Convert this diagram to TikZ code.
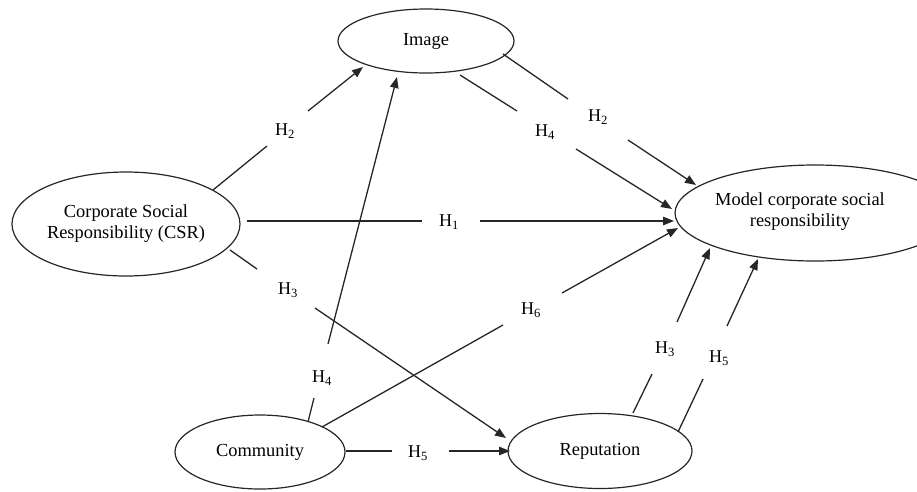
\documentclass[tikz,border=0pt]{standalone}
\usepackage{fontspec}
\setmainfont{Liberation Serif}
\usetikzlibrary{arrows.meta,shapes.geometric}
\begin{document}
\begin{tikzpicture}[x=1pt,y=-1pt,
  every node/.style={font=\fontsize{18.4}{21}\selectfont},
  construct/.style={draw=black!85,line width=1.2pt,ellipse,inner sep=0pt,align=center},
  hlabel/.style={inner sep=0pt,font=\fontsize{18}{20}\selectfont},
  seg/.style={draw=black!85,line width=1.3pt},
  arr/.style={seg,-{Triangle[length=11pt,width=8.5pt]}}]
\useasboundingbox (0,0) rectangle (917,491);
% constructs
\node[construct,minimum width=228pt,minimum height=104pt] (csr) at (126,224) {Corporate Social\\Responsibility (CSR)};
\node[construct,minimum width=176pt,minimum height=64pt] (img) at (426,41) {Image};
\node[construct,minimum width=280pt,minimum height=96pt] (model) at (815,213) {};
\node[align=center,inner sep=0pt] (modeltext) at (800,212) {Model corporate social\\responsibility};
\node[construct,minimum width=170pt,minimum height=74pt] (comm) at (260,452) {Community};
\node[construct,minimum width=184pt,minimum height=75pt] (rep) at (600,451) {Reputation};
% labels
\node[hlabel] (l1) at (285,131) {H\textsubscript{2}};
\node[hlabel] (l2) at (449,222) {H\textsubscript{1}};
\node[hlabel] (l3) at (288,290) {H\textsubscript{3}};
\node[hlabel] (l4) at (322,378) {H\textsubscript{4}};
\node[hlabel] (l5) at (531,310) {H\textsubscript{6}};
\node[hlabel] (l6) at (418,453) {H\textsubscript{5}};
\node[hlabel] (l7) at (545,132) {H\textsubscript{4}};
\node[hlabel] (l8) at (598,117) {H\textsubscript{2}};
\node[hlabel] (l9) at (665,349) {H\textsubscript{3}};
\node[hlabel] (l10) at (719,358) {H\textsubscript{5}};
% segment end points
\coordinate (a1) at (213,190); \coordinate (a2) at (267,146); \coordinate (a3) at (308,111); \coordinate (a4) at (363,67);
\coordinate (b1) at (247,221); \coordinate (b2) at (422,221); \coordinate (b3) at (480,221); \coordinate (b4) at (674,221);
\coordinate (c1) at (230,250); \coordinate (c2) at (257,269); \coordinate (c3) at (315,308); \coordinate (c4) at (506,438);
\coordinate (d1) at (308,422); \coordinate (d2) at (314,398); \coordinate (d3) at (328,344); \coordinate (d4) at (397,77);
\coordinate (e1) at (322,427); \coordinate (e2) at (503,325); \coordinate (e3) at (562,293); \coordinate (e4) at (678,228);
\coordinate (f1) at (346,451); \coordinate (f2) at (392,451); \coordinate (f3) at (449,451); \coordinate (f4) at (510,451);
\coordinate (g1) at (460,75); \coordinate (g2) at (517,111); \coordinate (g3) at (576,149); \coordinate (g4) at (672,209);
\coordinate (h1) at (503,54); \coordinate (h2) at (568,99); \coordinate (h3) at (628,140); \coordinate (h4) at (696,185);
\coordinate (i1) at (633,413); \coordinate (i2) at (652,374); \coordinate (i3) at (677,322); \coordinate (i4) at (710,248);
\coordinate (j1) at (678,432); \coordinate (j2) at (703,379); \coordinate (j3) at (727,326); \coordinate (j4) at (758,259);
% connectors
\draw[seg] (a1) -- (a2); \draw[arr] (a3) -- (a4);
\draw[seg] (b1) -- (b2); \draw[arr] (b3) -- (b4);
\draw[seg] (c1) -- (c2); \draw[arr] (c3) -- (c4);
\draw[seg] (d1) -- (d2); \draw[arr] (d3) -- (d4);
\draw[seg] (e1) -- (e2); \draw[arr] (e3) -- (e4);
\draw[seg] (f1) -- (f2); \draw[arr] (f3) -- (f4);
\draw[seg] (g1) -- (g2); \draw[arr] (g3) -- (g4);
\draw[seg] (h1) -- (h2); \draw[arr] (h3) -- (h4);
\draw[seg] (i1) -- (i2); \draw[arr] (i3) -- (i4);
\draw[seg] (j1) -- (j2); \draw[arr] (j3) -- (j4);
\end{tikzpicture}
\end{document}
